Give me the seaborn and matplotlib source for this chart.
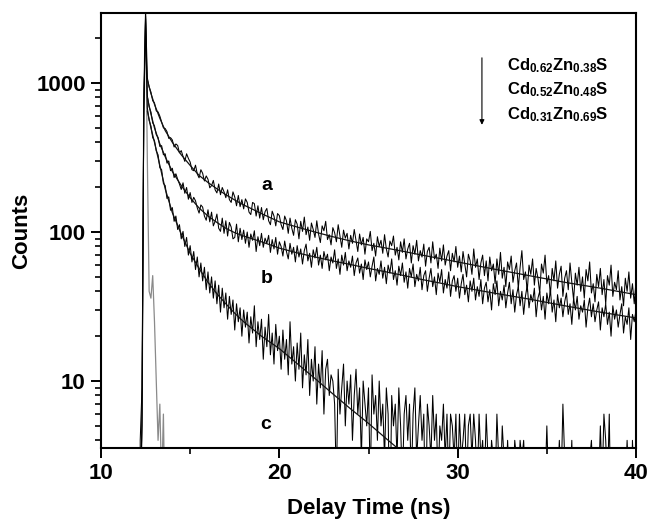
import numpy as np
import pandas as pd
import matplotlib
matplotlib.use("Agg")
import matplotlib.pyplot as plt
import seaborn as sns
from matplotlib.ticker import FixedLocator, NullFormatter, LogLocator

# ---------------- data ----------------
channel_start_ns = 12.0
channel_width_ns = 0.1

counts_a = [
    1, 0, 1, 6, 700, 2950, 1080, 940, 870, 760,
    735, 650, 640, 600, 548, 500, 495, 472, 425, 430,
    415, 372, 390, 381, 340, 352, 322, 298, 335, 312,
    295, 262, 258, 281, 245, 231, 262, 248, 220, 238,
    226, 198, 205, 222, 192, 183, 210, 178, 199, 186,
    170, 192, 165, 158, 186, 172, 150, 176, 148, 165,
    143, 167, 158, 136, 131, 158, 155, 128, 150, 124,
    146, 121, 137, 144, 119, 112, 138, 128, 110, 133,
    129, 112, 104, 128, 119, 98, 124, 106, 95, 121,
    113, 90, 118, 101, 126, 96, 108, 88, 115, 104,
    92, 119, 97, 85, 110, 102, 118, 89, 96, 82,
    107, 99, 86, 112, 94, 79, 103, 91, 98, 77,
    95, 84, 104, 88, 74, 97, 82, 92, 71, 90,
    86, 101, 75, 84, 69, 93, 80, 88, 72, 96,
    77, 68, 87, 81, 94, 70, 79, 65, 86, 73,
    90, 66, 77, 84, 62, 81, 71, 88, 64, 75,
    68, 83, 59, 74, 79, 62, 86, 66, 71, 57,
    78, 64, 82, 60, 69, 75, 55, 72, 63, 80,
    58, 69, 54, 74, 61, 50, 71, 64, 52, 77,
    58, 66, 48, 62, 70, 51, 64, 47, 68, 55,
    61, 45, 66, 52, 73, 49, 58, 43, 63, 56,
    69, 46, 55, 62, 42, 58, 75, 48, 54, 40,
    60, 52, 66, 44, 57, 49, 39, 61, 53, 70,
    45, 51, 38, 57, 47, 64, 42, 52, 59, 37,
    49, 55, 41, 62, 46, 35, 53, 44, 58, 40,
    50, 36, 56, 47, 63, 39, 45, 34, 52, 43,
    57, 38, 48, 33, 51, 44, 60, 37, 46, 41,
    55, 35, 43, 32, 49, 40, 54, 36, 45, 33,
    47,
]

counts_b = [
    0, 1, 2, 5, 650, 2800, 820, 690, 640, 540,
    515, 450, 432, 375, 380, 330, 335, 290, 300, 258,
    268, 232, 246, 226, 210, 193, 214, 182, 199, 166,
    184, 158, 171, 162, 145, 134, 152, 147, 128, 120,
    141, 117, 136, 110, 118, 132, 106, 101, 124, 98,
    119, 94, 116, 108, 90, 92, 113, 86, 106, 89,
    103, 84, 100, 79, 97, 88, 102, 74, 93, 81,
    98, 79, 91, 84, 95, 73, 89, 77, 92, 71,
    86, 80, 69, 87, 74, 66, 84, 71, 79, 63,
    81, 68, 77, 61, 75, 83, 64, 72, 58, 76,
    67, 79, 60, 70, 57, 74, 65, 71, 55, 68,
    62, 76, 57, 66, 52, 70, 60, 73, 55, 64,
    58, 69, 51, 62, 67, 53, 61, 48, 65, 56,
    63, 50, 59, 68, 47, 57, 52, 64, 49, 58,
    45, 60, 53, 66, 48, 55, 44, 59, 51, 62,
    46, 54, 42, 57, 50, 61, 43, 52, 47, 58,
    41, 51, 55, 40, 49, 57, 43, 50, 38, 53,
    46, 56, 39, 48, 42, 54, 37, 47, 51, 40,
    49, 36, 45, 52, 38, 44, 34, 47, 40, 49,
    35, 43, 37, 48, 33, 42, 46, 34, 41, 30,
    45, 38, 47, 32, 40, 35, 44, 31, 39, 46,
    33, 41, 29, 38, 43, 32, 40, 28, 37, 44,
    31, 38, 34, 42, 27, 36, 40, 30, 37, 26,
    39, 33, 41, 29, 35, 25, 38, 31, 36, 27,
    34, 39, 28, 33, 24, 36, 30, 37, 26, 32,
    29, 35, 23, 31, 36, 27, 33, 25, 30, 34,
    22, 31, 27, 33, 24, 29, 20, 32, 26, 30,
    23, 28, 33, 21, 27, 24, 31, 19, 28, 25,
    30,
]

counts_c = [
    1, 0, 4, 9, 600, 2700, 680, 560, 515, 430,
    410, 350, 330, 270, 262, 212, 205, 168, 172, 140,
    146, 118, 128, 104, 112, 90, 101, 80, 92, 70,
    81, 63, 74, 56, 68, 50, 62, 47, 58, 41,
    54, 39, 50, 36, 47, 33, 44, 29, 42, 31,
    39, 26, 37, 28, 35, 22, 33, 25, 31, 20,
    30, 23, 29, 18, 27, 21, 32, 17, 25, 19,
    26, 14, 23, 17, 28, 15, 21, 13, 24, 16,
    20, 12, 22, 14, 19, 11, 25, 13, 17, 10,
    18, 12, 21, 9, 15, 11, 19, 8, 14, 10,
    17, 7, 13, 9, 16, 6, 12, 14, 8, 11,
    10, 7, 2, 12, 6, 9, 13, 5, 10, 7,
    11, 4, 8, 12, 6, 9, 3, 10, 7, 5,
    9, 2, 11, 6, 8, 4, 10, 5, 7, 3,
    9, 6, 1, 8, 5, 7, 3, 9, 5, 2,
    6, 8, 4, 7, 2, 6, 9, 3, 5, 8,
    4, 6, 1, 7, 5, 3, 8, 4, 6, 2,
    5, 4, 7, 3, 6, 2, 6, 5, 3, 6,
    2, 6, 3, 4, 6, 2, 5, 6, 3, 6,
    4, 2, 6, 3, 4, 2, 6, 3, 2, 4,
    3, 2, 6, 3, 2, 5, 3, 2, 4, 2,
    3, 2, 4, 3, 2, 4, 3, 4, 2, 3,
    2, 3, 2, 1, 3, 2, 3, 2, 1, 2,
    5, 2, 3, 1, 2, 3, 2, 4, 2, 7,
    3, 2, 2, 2, 4, 1, 2, 3, 2, 1,
    3, 2, 1, 2, 3, 4, 2, 1, 3, 2,
    5, 2, 6, 4, 2, 6, 1, 2, 3, 2,
    1, 2, 3, 1, 2, 4, 2, 1, 4, 2,
    3,
]

irf_counts = [0, 1, 2, 4, 900, 3000, 300, 40, 36, 51,
              25, 10, 4, 7, 2, 6, 1, 0, 0, 0, 0]

fit_time_ns = [12.6, 12.8, 13.0, 13.3, 13.6, 14.0, 14.5, 15.0, 15.5, 16.0,
               16.5, 17.0, 17.5, 18.0, 19.0, 20.0, 21.0, 22.0, 23.0, 24.0,
               25.0, 26.0, 27.0, 28.0, 29.0, 30.0, 32.0, 34.0, 36.0, 38.0, 40.0]
fit_a = [1050, 850, 720, 580, 480, 400, 330, 280, 240, 215,
         195, 178, 164, 152, 133, 117, 108, 100, 93, 87,
         82, 78, 74, 70, 66.5, 63, 56.5, 51, 46, 42, 38]
fit_b = [800, 620, 500, 390, 320, 255, 205, 170, 145, 128,
         116, 106, 99, 94, 86, 78, 72.5, 68, 64, 60.5,
         57, 54, 51, 48, 45.5, 43, 39, 35.5, 32, 29, 26.5]
fit_c = [650, 500, 400, 280, 195, 135, 97, 72, 57, 46,
         38.5, 33, 28.5, 25, 20, 16.5, 13.1, 10.4, 8.2, 6.5,
         5.2, 4.1, 3.25]

curve_labels = ["a", "b", "c"]
label_pos_time = [19.3, 19.3, 19.25]
label_pos_counts = [206, 49, 5.07]
legend_lines = [r"$\mathbf{Cd_{0.62}Zn_{0.38}S}$",
                r"$\mathbf{Cd_{0.52}Zn_{0.48}S}$",
                r"$\mathbf{Cd_{0.31}Zn_{0.69}S}$"]

# ---------------- style ----------------
sns.set_style("ticks")
plt.rcParams['font.family'] = ['Liberation Sans', 'DejaVu Sans']
plt.rcParams['font.weight'] = 'bold'
plt.rcParams['text.color'] = 'black'
plt.rcParams['axes.labelcolor'] = 'black'
plt.rcParams['xtick.color'] = 'black'
plt.rcParams['ytick.color'] = 'black'
plt.rcParams['mathtext.fontset'] = 'custom'
plt.rcParams['mathtext.rm'] = 'Liberation Sans:bold'
plt.rcParams['mathtext.bf'] = 'Liberation Sans:bold'
plt.rcParams['mathtext.it'] = 'Liberation Sans:bold'

fig = plt.figure(figsize=(6.49, 5.21), dpi=100)
ax = fig.add_axes([0.1556, 0.140, 0.8244, 0.835])

time_ns = channel_start_ns + channel_width_ns * np.arange(len(counts_a))
irf_time = time_ns[:len(irf_counts)]

sns.lineplot(x=irf_time, y=irf_counts, ax=ax, color='#8a8a8a', lw=0.9,
             estimator=None, sort=False)
for counts in (counts_a, counts_b, counts_c):
    sns.lineplot(x=time_ns, y=counts, ax=ax, color='black', lw=0.75,
                 estimator=None, sort=False)
for fit in (fit_a, fit_b, fit_c):
    sns.lineplot(x=fit_time_ns[:len(fit)], y=fit, ax=ax, color='#111111',
                 lw=0.9, estimator=None, sort=False)

ax.set_yscale('log')
ax.set_xlim(10, 40)
ax.set_ylim(3.55, 2950)

ax.xaxis.set_major_locator(FixedLocator([10, 20, 30, 40]))
ax.xaxis.set_minor_locator(FixedLocator([15, 25, 35]))
ax.set_xticklabels(["10", "20", "30", "40"])
ax.yaxis.set_major_locator(FixedLocator([10, 100, 1000]))
ax.set_yticklabels(["10", "100", "1000"])
ax.yaxis.set_minor_locator(LogLocator(base=10, subs=np.arange(2, 10)))
ax.yaxis.set_minor_formatter(NullFormatter())

for sp in ax.spines.values():
    sp.set_visible(True)
    sp.set_linewidth(1.5)
    sp.set_color('black')
ax.tick_params(which='major', direction='out', length=7, width=1.4,
               labelsize=16, pad=4, top=False, right=False, colors='black')
ax.tick_params(which='minor', direction='out', length=4, width=1.2,
               top=False, right=False, colors='black')
for lab in ax.get_xticklabels() + ax.get_yticklabels():
    lab.set_fontweight('bold')
    lab.set_color('black')

ax.set_xlabel("Delay Time (ns)", fontsize=16, fontweight='bold', labelpad=10,
              color='black')
ax.set_ylabel("Counts", fontsize=16, fontweight='bold', labelpad=3,
              color='black')

for t, x, y in zip(curve_labels, label_pos_time, label_pos_counts):
    ax.text(x, y, t, fontsize=14, fontweight='bold', ha='center', va='center',
            color='black')

for i, s in enumerate(legend_lines):
    ax.text(0.759, 0.880 - i * 0.057, s, transform=ax.transAxes,
            fontsize=12, ha='left', va='center', color='black')
ax.annotate('', xy=(0.712, 0.743), xytext=(0.712, 0.897),
            xycoords='axes fraction', textcoords='axes fraction',
            arrowprops=dict(arrowstyle='-|>', color='black', lw=0.8,
                            mutation_scale=7, shrinkA=0, shrinkB=0))

fig.savefig("out.png", dpi=100)
